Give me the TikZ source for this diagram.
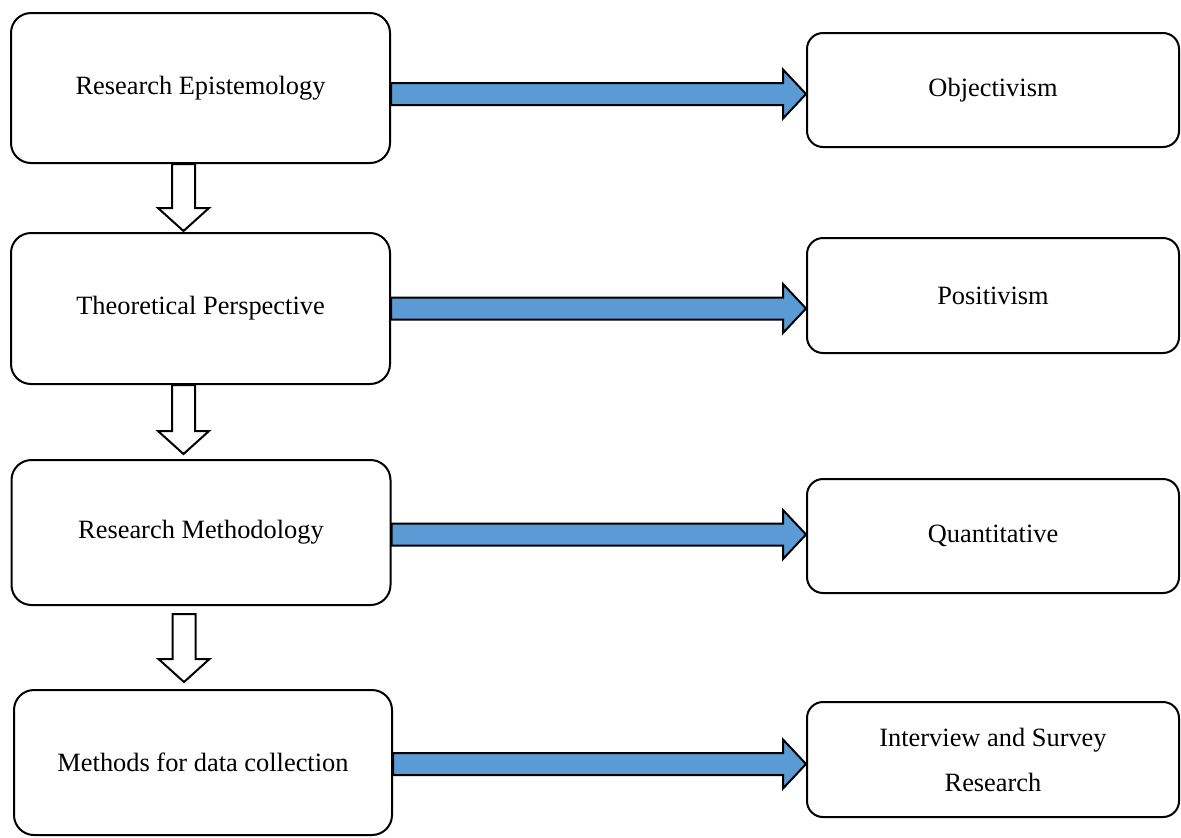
\documentclass[tikz,border=0pt]{standalone}
\usepackage{fontspec}
\setmainfont{Liberation Serif}
\usetikzlibrary{calc}
\definecolor{arrowblue}{HTML}{5B9BD5}
\tikzset{
  lbox/.style={draw, line width=1pt, rounded corners=10pt, minimum width=189.5pt,
    minimum height=75pt, align=center, inner sep=0pt,
    font=\fontsize{13.2pt}{22.5pt}\selectfont},
  rbox/.style={lbox, rounded corners=8pt, minimum width=186pt, minimum height=57pt},
  bluefill/.style={draw, line width=1pt, fill=arrowblue, line join=miter},
  hollow/.style={draw, line width=1pt, fill=white, line join=miter},
}
% block arrow from the east side of #1 to the west side of #2, shifted up by #3
\newcommand\rightblock[3]{%
  \draw[bluefill] let \p1=($(#1.east)+(0pt,#3)$), \p2=(#2.west) in
    (\x1,\y1+5.5pt) -- (\x2-11.5pt,\y1+5.5pt) -- (\x2-11.5pt,\y1+12.25pt)
    -- (\x2,\y1) -- (\x2-11.5pt,\y1-12.25pt) -- (\x2-11.5pt,\y1-5.5pt)
    -- (\x1,\y1-5.5pt) -- cycle;}
% hollow arrow from below #1 down to #2; #3 = gap at the start, #4 = gap at the tip
\newcommand\downblock[4]{%
  \draw[hollow] let \p1=($(#1.south)+(-8.5pt,-#3)$), \p2=($(#2.north)+(0pt,#4)$) in
    (\x1-5.75pt,\y1) -- (\x1-5.75pt,\y2+11.5pt) -- (\x1-12.75pt,\y2+11.5pt)
    -- (\x1,\y2) -- (\x1+12.75pt,\y2+11.5pt) -- (\x1+5.75pt,\y2+11.5pt)
    -- (\x1+5.75pt,\y1) -- cycle;}
\begin{document}
\begin{tikzpicture}[x=0.5pt, y=-0.5pt]
  \useasboundingbox (0,0) rectangle (1181,837);

  % left column
  \node[lbox] (L1) at (200.5,88) {Research Epistemology};
  \node[lbox, minimum height=75.5pt] (L2) at (200.5,308.5) {Theoretical Perspective};
  \node[lbox, minimum height=72.5pt] (L3) at (201,532.5) {Research Methodology};
  \node[lbox, minimum width=189pt, minimum height=72.5pt] (L4) at (203,762.5) {Methods for data collection};

  % right column
  \node[rbox] (R1) at (993,90) {Objectivism};
  \node[rbox, minimum height=57.5pt] (R2) at (993,295.5) {Positivism};
  \node[rbox] (R3) at (993,536) {Quantitative};
  \node[rbox, minimum height=57.5pt] (R4) at (993,759.5) {Interview and Survey\\Research};

  % horizontal connectors
  \rightblock{L1}{R1}{-3pt}
  \rightblock{L2}{R2}{0pt}
  \rightblock{L3}{R3}{-1pt}
  \rightblock{L4}{R4}{-0.75pt}

  % vertical connectors
  \downblock{L1}{L2}{0pt}{0.5pt}
  \downblock{L2}{L3}{0pt}{2.5pt}
  \downblock{L3}{L4}{4pt}{3.5pt}
\end{tikzpicture}
\end{document}
